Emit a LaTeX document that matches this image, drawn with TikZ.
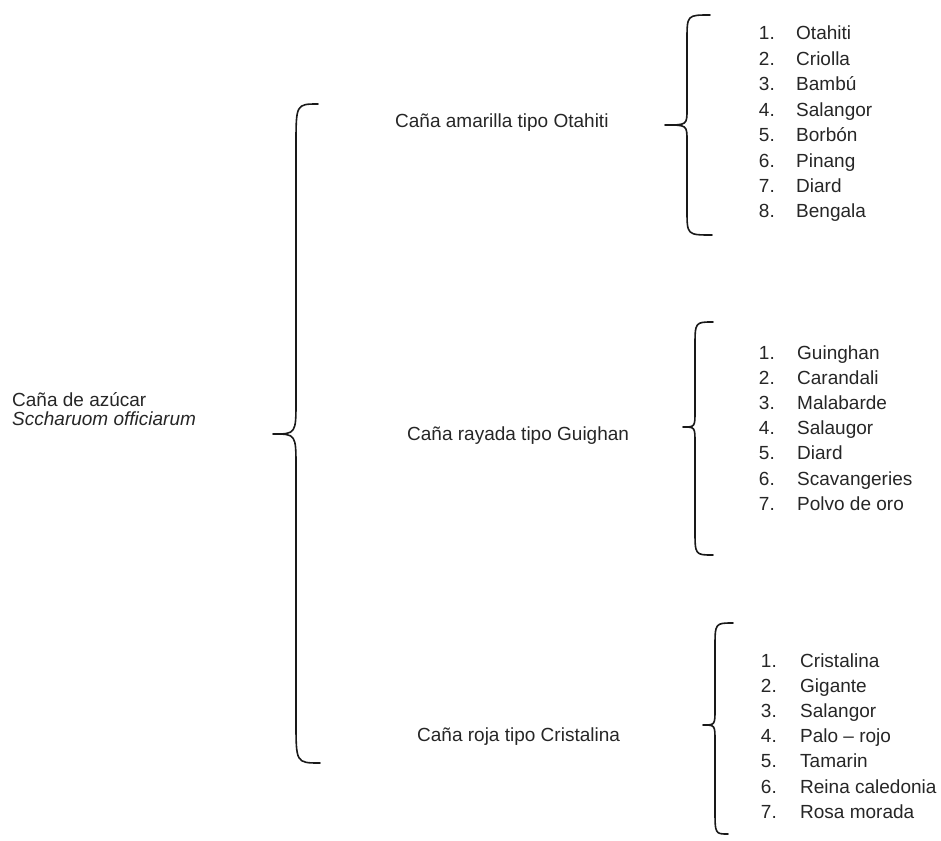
\documentclass[tikz,border=0pt]{standalone}
\usepackage{fontspec}
\setmainfont{Liberation Sans}
\newcommand\drawbrace[9]{%
  \draw[bracestyle] (#1,#2) .. controls (#3,#2) .. (#3,#2+#8) -- (#3,#5-#9)
    .. controls (#3,#5) .. (#4,#5) .. controls (#3,#5) .. (#3,#5+#9)
    -- (#3,#7-#8) .. controls (#3,#7) .. (#6,#7);}
\begin{document}
\begin{tikzpicture}[x=1pt,y=-1pt,
  every node/.style={inner sep=0pt, text=black!85, font=\fontsize{19}{19}\selectfont},
  bracestyle/.style={line width=1.6pt, line cap=round, line join=round, black!90},
  lab/.style={anchor=base west},
  num/.style={anchor=base east}]
\useasboundingbox (0,0) rectangle (941,840);
% braces
\drawbrace{318}{104}{296}{273}{434}{320}{763}{42}{34}
\drawbrace{710}{15}{687}{665}{125}{712}{235}{25}{16}
\drawbrace{713}{322}{695}{683}{427}{713}{555}{25}{16}
\drawbrace{733}{623}{715}{703}{725}{728}{834}{25}{16}
% root
\node[lab] (root) at (12,406) {Caña de azúcar};
\node[lab] (rootsci) at (12,425) {\itshape Sccharuom officiarum};
% second level
\node[lab] (otahiti) at (395,127) {Caña amarilla tipo Otahiti};
\node[lab] (guighan) at (407,440) {Caña rayada tipo Guighan};
\node[lab] (cristalina) at (417,741) {Caña roja tipo Cristalina};
% lists
\foreach \t [count=\i] in {Otahiti,Criolla,Bambú,Salangor,Borbón,Pinang,Diard,Bengala}{
  \node[num] (an\i) at (775,{40+25.4*(\i-1)}) {\i.};
  \node[lab] (at\i) at (796,{40+25.4*(\i-1)}) {\t};
}
\foreach \t [count=\i] in {Guinghan,Carandali,Malabarde,Salaugor,Diard,Scavangeries,Polvo de oro}{
  \node[num] (bn\i) at (775,{359.5+25.1*(\i-1)}) {\i.};
  \node[lab] (bt\i) at (797,{359.5+25.1*(\i-1)}) {\t};
}
\foreach \t [count=\i] in {Cristalina,Gigante,Salangor,Palo – rojo,Tamarin,Reina caledonia,Rosa morada}{
  \node[num] (cn\i) at (777,{667.5+25.1*(\i-1)}) {\i.};
  \node[lab] (ct\i) at (800,{667.5+25.1*(\i-1)}) {\t};
}
\end{tikzpicture}
\end{document}
